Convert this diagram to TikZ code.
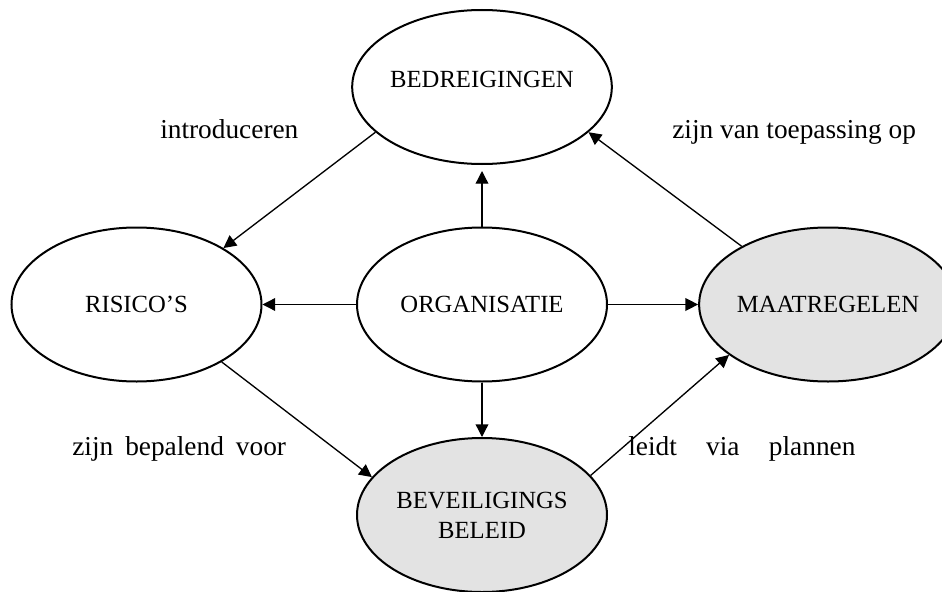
\documentclass[tikz,border=0pt]{standalone}
\usepackage{fontspec}
\setmainfont{Liberation Serif}
\usetikzlibrary{arrows.meta,shapes.geometric}
\definecolor{shade}{RGB}{227,227,227}
\begin{document}
\begin{tikzpicture}[x=0.75pt,y=-0.75pt,
  ell/.style={ellipse,draw,line width=1.5pt,minimum width=187.5pt,minimum height=115.5pt,
    inner sep=0pt,font=\fontsize{18.5}{22.5}\selectfont,align=center},
  shaded/.style={ell,fill=shade},
  conn/.style={line width=1pt,-{Triangle[length=9.5pt,width=9.5pt]}},
  lbl/.style={font=\fontsize{20.5}{24}\selectfont,anchor=base west,inner sep=0pt}]
\clip (0,0) rectangle (942,592);
\fill[white] (0,0) rectangle (942,592);

\node[ell,minimum width=184.5pt,text depth=12pt] (bed) at (482,87) {BEDREIGINGEN};
\node[ell] (ris) at (136.5,304.5) {RISICO'S};
\node[ell] (org) at (482,304.5) {ORGANISATIE};
\node[shaded] (maa) at (828,304.5) {MAATREGELEN};
\node[shaded] (bev) at (482,515) {BEVEILIGINGS\\BELEID};

\draw[conn] (bed.203) -- (ris.33);
\draw[conn] (maa.146) -- (bed.337);
\draw[conn] (ris.326) -- (bev.161);
\draw[conn] (bev.20) -- (maa.207);
\draw[conn] (org.west) -- (ris.east);
\draw[conn] (org.east) -- (maa.west);
\draw[conn,shorten >=4.5pt] (org.north) -- (bed.south);
\draw[conn] (org.south) -- (bev.north);

\node[lbl] (l1) at (160,138) {introduceren};
\node[lbl] (l2) at (672,138) {zijn van toepassing op};
\node[lbl] (l3) at (72,455) {zijn\hspace{9pt}bepalend\hspace{9pt}voor};
\node[lbl] (l4) at (628,455) {leidt\hspace{22pt}via\hspace{22pt}plannen};
\end{tikzpicture}
\end{document}
